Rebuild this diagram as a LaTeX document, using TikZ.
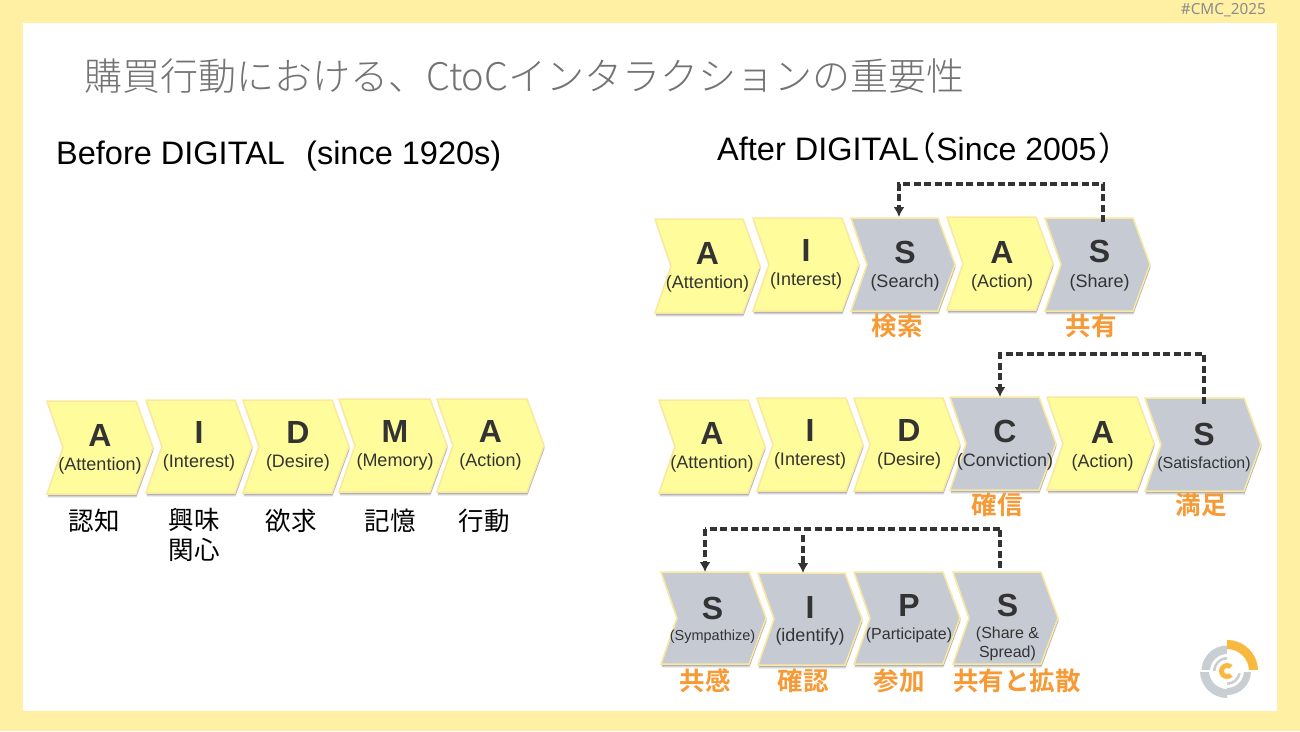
\documentclass[tikz,border=0pt]{standalone}
\usepackage{fontspec}
\setmainfont{Liberation Sans}
\newfontfamily\cjk{Noto Sans CJK JP}
\newfontfamily\cjkl{Noto Sans CJK JP Light}
\newfontfamily\cjkb{Noto Sans CJK JP Bold}
\usetikzlibrary{arrows.meta,calc}
\definecolor{frameY}{HTML}{FFF0A4}
\definecolor{chevY}{HTML}{FFFC9C}
\definecolor{chevG}{HTML}{C6CBD3}
\definecolor{edgeY}{HTML}{FBE8A0}
\definecolor{inkD}{HTML}{333333}
\definecolor{orangeT}{HTML}{F79A36}
\definecolor{logoO}{HTML}{F9B93F}
\definecolor{logoG}{HTML}{C9CED3}
\newcommand{\tx}{0}
\tikzset{
  bigT/.style={inkD,font=\bfseries\fontsize{32}{32}\selectfont,inner sep=0pt},
  subT/.style={inkD,inner sep=0pt,align=center},
  orangeL/.style={orangeT,font=\cjkb\fontsize{25.5}{25.5}\selectfont,inner sep=0pt},
  blackL/.style={black,font=\cjk\fontsize{25.5}{25.5}\selectfont,inner sep=0pt},
  headT/.style={black,font=\fontsize{32.5}{32.5}\selectfont,inner sep=0pt,anchor=base west},
  link/.style={draw=inkD,line width=3.6pt,dash pattern=on 7pt off 3.5pt},
  linkA/.style={link,-{Latex[length=10pt,width=11pt,fill=inkD]}}
}
\newcommand{\chevpath}[4]{(#1,#2) -- ({#3-17},#2) -- (#3,{(#2+#4)/2}) -- ({#3-17},#4) -- (#1,#4) -- ({#1+16},{(#2+#4)/2}) -- cycle}
% name, left, top, right, bottom, fill, letter, letter y
\newcommand{\chev}[8]{%
  \foreach \q/\w in {0.6/0.16,1.4/0.14,2.2/0.12,3/0.10,3.8/0.06}{
    \fill[black,opacity=\w,xshift=0.5pt,yshift=-\q pt] \chevpath{#2}{#3}{#4}{#5};}
  \path[draw=edgeY,line width=1.5pt,fill=#6] \chevpath{#2}{#3}{#4}{#5};
  \node[inner sep=0pt,outer sep=0pt,minimum width={(#4-#2)*1pt},minimum height={(#5-#3)*1pt}] (#1) at ({(#2+#4)/2},{(#3+#5)/2}) {};
  \node[bigT,xshift=\tx pt] (#1-big) at ($(#1.center |- 0,#8)$) {#7};
}
\newcommand{\subtext}[4]{\node[subT,xshift=\tx pt,font=\fontsize{#3}{#3}\selectfont] (#1-sub) at ($(#1.center |- 0,#2)$) {#4};}
\newcommand{\band}[5]{\fill[#5] ($(logoc)+(#1:#3pt)$) arc[start angle=#1,end angle=#2,radius=#3pt] -- ($(logoc)+(#2:#4pt)$) arc[start angle=#2,end angle=#1,radius=#4pt] -- cycle;}
\begin{document}
\begin{tikzpicture}[x=1pt,y=-1pt]
\useasboundingbox (0,0) rectangle (1300,731);
\fill[frameY] (0,0) rectangle (1300,731);
\fill[white] (23,23) rectangle (1277,711);
\node[inner sep=0pt,anchor=east,text=black!45,font=\fontsize{15.3}{15.3}\selectfont\fontspec{Noto Sans}] (tag) at (1266,10) {\#CMC\_2025};
\node[inner sep=0pt,anchor=west,text=black!55,font=\cjkl\fontsize{38}{38}\selectfont] (title) at (84,76) {購買行動における、CtoCインタラクションの重要性};
\node[headT] (before) at (56,164) {Before DIGITAL};
\node[headT] (since) at (306,164) {(since 1920s)};
\node[headT] (after) at (717,160) {After DIGITAL\kern-15pt{\cjk（}{\fontsize{32}{32}\selectfont Since 2005}\kern2pt{\cjk）}};
% left row
\renewcommand{\tx}{0}
\chev{la}{47}{401}{153}{494}{chevY}{A}{435}\subtext{la}{466}{18}{(Attention)}
\chev{li}{146}{400}{252}{493}{chevY}{I}{432}\subtext{li}{463}{18}{(Interest)}
\renewcommand{\tx}{2}
\chev{ld}{243}{400}{349}{493}{chevY}{D}{432}\subtext{ld}{463}{18}{(Desire)}
\chev{lm}{339}{399}{447}{492}{chevY}{M}{431}\subtext{lm}{462}{18}{(Memory)}
\renewcommand{\tx}{0}
\chev{lb}{437}{399}{544}{492}{chevY}{A}{431}\subtext{lb}{462}{18}{(Action)}
\node[blackL] (l1) at (94,521) {認知};
\node[blackL] (l2) at (194,520) {興味};
\node[blackL] (l2b) at (194,550) {関心};
\node[blackL] (l3) at (291,521) {欲求};
\node[blackL] (l4) at (390,521) {記憶};
\node[blackL] (l5) at (484,521) {行動};
% row 1
\chev{aa}{655}{219}{760}{313}{chevY}{A}{253}\subtext{aa}{284}{18}{(Attention)}
\chev{ai}{753}{218}{859}{311}{chevY}{I}{250}\subtext{ai}{281}{18}{(Interest)}
\renewcommand{\tx}{2}
\chev{as}{851}{218}{955}{311}{chevG}{S}{252}\subtext{as}{283}{18}{(Search)}
\chev{ab}{947}{217}{1053}{310}{chevY}{A}{252}\subtext{ab}{283}{18}{(Action)}
\chev{at}{1045}{218}{1150}{311}{chevG}{S}{251}\subtext{at}{283}{18}{(Share)}
\draw[linkA] ([xshift=5.5pt,yshift=-4pt]at.north) -- ++(0,-38) -| ([xshift=-4pt,yshift=1pt]as.north);
\node[orangeL] (o1) at (897,326) {検索};
\node[orangeL] (o2) at (1091,326) {共有};
% row 2
\renewcommand{\tx}{0}
\chev{ba}{659}{400}{765}{493}{chevY}{A}{433}\subtext{ba}{464}{18}{(Attention)}
\chev{bi}{757}{398}{863}{491}{chevY}{I}{430}\subtext{bi}{461}{18}{(Interest)}
\renewcommand{\tx}{2}
\chev{bd}{854}{398}{960}{491}{chevY}{D}{430}\subtext{bd}{461}{18}{(Desire)}
\chev{bc}{950}{397}{1056}{490}{chevG}{C}{431}\subtext{bc}{462}{18}{(Conviction)}
\chev{bb}{1047}{397}{1154}{490}{chevY}{A}{432}\subtext{bb}{463}{18}{(Action)}
\renewcommand{\tx}{1}
\chev{bs}{1145}{398}{1261}{491}{chevG}{S}{434}\subtext{bs}{464}{16}{(Satisfaction)}
\draw[linkA] ([xshift=1pt,yshift=-6pt]bs.north) -- ++(0,-50) -| ([xshift=-3pt]bc.north);
\node[orangeL] (o3) at (997,505) {確信};
\node[orangeL] (o4) at (1201,505) {満足};
% row 3
\renewcommand{\tx}{-1}
\chev{ca}{661}{572}{766}{664}{chevG}{S}{608}\subtext{ca}{637}{14.5}{(Sympathize)}
\renewcommand{\tx}{0}
\chev{ci}{758}{573}{862}{665}{chevG}{I}{607}\subtext{ci}{637}{18}{(identify)}
\renewcommand{\tx}{2}
\chev{cp}{854}{572}{960}{664}{chevG}{P}{605}\subtext{cp}{635}{16}{(Participate)}
\chev{cs}{953}{572}{1058}{664}{chevG}{S}{605}\subtext{cs}{644}{16}{(Share \&\\[3pt]Spread)}
\coordinate (corner) at (705,529);
\coordinate (gapR) at (1000,529);
\draw[link] ([xshift=-5.5pt,yshift=4pt]cs.north) -- ++(0,-38);
\draw[link] (gapR) -- (corner);
\draw[linkA] (corner) -- (ca.north -| corner);
\draw[linkA] (803,535) -- (ci.north -| 803,0);
\node[orangeL] (o5) at (705,681) {共感};
\node[orangeL] (o6) at (803,681) {確認};
\node[orangeL] (o7) at (899,681) {参加};
\node[orangeL] (o8) at (1017,681) {共有と拡散};
% logo
\coordinate (logoc) at (1227,671);
\band{0}{90}{31}{22}{logoO}
\band{90}{180}{25.5}{17}{logoG}
\band{180}{270}{27}{18}{logoG}
\band{-90}{0}{24}{17}{logoG}
\fill[white] ($(logoc)+(-32,-0.8)$) rectangle ($(logoc)+(32,0.8)$);
\band{90}{180}{14}{11.5}{logoG}
\band{-90}{-10}{14}{11.5}{logoG}
\fill[logoO] (logoc) circle[radius=8pt];
\band{-45}{45}{3}{9}{white}
\fill[white] (logoc) circle[radius=3pt];
\end{tikzpicture}
\end{document}
